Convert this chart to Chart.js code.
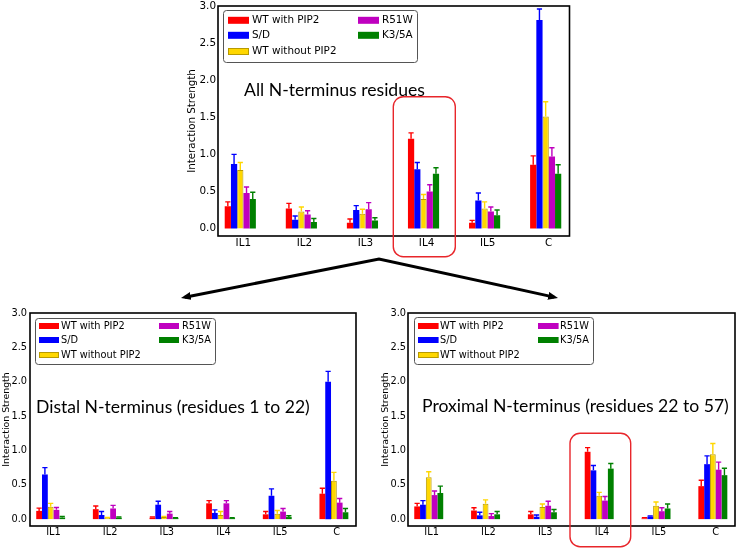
<!DOCTYPE html>
<html><head><meta charset="utf-8">
<script src="https://cdn.jsdelivr.net/npm/chart.js@4.4.1/dist/chart.umd.min.js"></script>
<style>
html,body{margin:0;padding:0;background:#fff;}
#wrap{position:relative;width:737px;height:549px;overflow:hidden;background:#fff;}
#wrap canvas{position:absolute;}
#deco{position:absolute;left:0;top:0;pointer-events:none;}
</style></head><body>
<div id="wrap">
<canvas id="cAll" width="410" height="262" style="left:170px;top:0px"></canvas>
<canvas id="cDist" width="365" height="249" style="left:0px;top:300px"></canvas>
<canvas id="cProx" width="365" height="249" style="left:372px;top:300px"></canvas>
<svg id="deco" width="737" height="549" viewBox="0 0 737 549">
  <defs>
    <marker id="ah" markerUnits="userSpaceOnUse" markerWidth="11" markerHeight="9" refX="6" refY="4" orient="auto-start-reverse">
      <path d="M0,0 L10,4 L0,8 z" fill="#000"/>
    </marker>
  </defs>
  <rect x="393.3" y="96.7" width="62" height="160" rx="10" ry="10" fill="none" stroke="#e8262b" stroke-width="1.4"/>
  <rect x="570" y="433.3" width="60.7" height="113.4" rx="10" ry="10" fill="none" stroke="#e8262b" stroke-width="1.4"/>
  <polyline points="184.9,297.2 379,259 554.1,297.1" fill="none" stroke="#000" stroke-width="3" stroke-linejoin="miter" marker-start="url(#ah)" marker-end="url(#ah)"/>
</svg>
</div>
<script>
// ---------- data ----------
const categories = ['IL1','IL2','IL3','IL4','IL5','C'];
const seriesNames = ['WT with PIP2','S/D','WT without PIP2','R51W','K3/5A'];
const yTickValues = [0.0,0.5,1.0,1.5,2.0,2.5,3.0];
const yAxisTitle = 'Interaction Strength';

// All N-terminus residues
const allWT      = [0.30, 0.27, 0.08, 1.21, 0.08, 0.86];
const allSD      = [0.87, 0.12, 0.25, 0.80, 0.38, 2.81];
const allNoPIP2  = [0.79, 0.23, 0.20, 0.40, 0.27, 1.51];
const allR51W    = [0.48, 0.19, 0.26, 0.50, 0.23, 0.97];
const allK35A    = [0.40, 0.09, 0.11, 0.74, 0.18, 0.74];
const allWTErr     = [0.06, 0.07, 0.05, 0.08, 0.03, 0.12];
const allSDErr     = [0.13, 0.05, 0.06, 0.09, 0.10, 0.15];
const allNoPIP2Err = [0.10, 0.06, 0.06, 0.06, 0.09, 0.20];
const allR51WErr   = [0.08, 0.05, 0.09, 0.09, 0.06, 0.12];
const allK35AErr   = [0.09, 0.045, 0.035, 0.08, 0.07, 0.12];

// Distal N-terminus (residues 1 to 22)
const distWT     = [0.12, 0.145, 0.02, 0.23, 0.07, 0.37];
const distSD     = [0.65, 0.06, 0.21, 0.09, 0.34, 2.00];
const distNoPIP2 = [0.18, 0.015, 0.03, 0.06, 0.08, 0.56];
const distR51W   = [0.135, 0.155, 0.08, 0.23, 0.11, 0.24];
const distK35A   = [0.025, 0.02, 0.015, 0.015, 0.03, 0.10];
const distWTErr     = [0.04, 0.045, 0.01, 0.04, 0.04, 0.08];
const distSDErr     = [0.10, 0.05, 0.05, 0.045, 0.10, 0.15];
const distNoPIP2Err = [0.05, 0.01, 0.01, 0.05, 0.045, 0.12];
const distR51WErr   = [0.035, 0.045, 0.03, 0.04, 0.045, 0.06];
const distK35AErr   = [0.015, 0.01, 0.005, 0.005, 0.02, 0.055];

// Proximal N-terminus (residues 22 to 57)
const proxWT     = [0.185, 0.125, 0.07, 0.98, 0.01, 0.48];
const proxSD     = [0.21, 0.055, 0.035, 0.71, 0.035, 0.80];
const proxNoPIP2 = [0.61, 0.225, 0.175, 0.34, 0.195, 0.945];
const proxR51W   = [0.35, 0.045, 0.195, 0.27, 0.115, 0.72];
const proxK35A   = [0.38, 0.07, 0.10, 0.735, 0.155, 0.64];
const proxWTErr     = [0.045, 0.04, 0.04, 0.06, 0.01, 0.085];
const proxSDErr     = [0.06, 0.045, 0.025, 0.07, 0.01, 0.12];
const proxNoPIP2Err = [0.08, 0.055, 0.045, 0.05, 0.055, 0.155];
const proxR51WErr   = [0.06, 0.035, 0.065, 0.06, 0.05, 0.11];
const proxK35AErr   = [0.10, 0.04, 0.04, 0.075, 0.065, 0.10];

const titleAll  = 'All N-terminus residues';
const titleDist = 'Distal N-terminus (residues 1 to 22)';
const titleProx = 'Proximal N-terminus (residues 22 to 57)';

// ---------- styling ----------
const colors  = ['#ff0000','#0000ff','#ffd700','#bf00bf','#008000'];
const borders = ['#d00000','#0000c8','#b89a00','#900090','#006000'];
const FONT = "'DejaVu Sans', sans-serif";

function makeDatasets(vals, errs){
  return vals.map((v,k)=>({
    label: seriesNames[k],
    data: v.map((y,i)=>({x:i, y:y})),
    errors: errs[k],
    backgroundColor: colors[k],
    borderColor: borders[k],
    borderWidth: k===2 ? 1 : 0,
    categoryPercentage: 0.51,
    barPercentage: 1.0
  }));
}

const decoPlugin = {
  id: 'deco',
  afterDatasetsDraw(chart){
    const ctx = chart.ctx, ys = chart.scales.y;
    chart.data.datasets.forEach((ds, di)=>{
      const meta = chart.getDatasetMeta(di);
      meta.data.forEach((bar, i)=>{
        const v = ds.data[i].y, e = ds.errors[i];
        const yTop = ys.getPixelForValue(v + e);
        const cap = 2.6;
        ctx.save();
        ctx.strokeStyle = colors[di];
        ctx.lineWidth = 1.4;
        ctx.beginPath();
        ctx.moveTo(bar.x, bar.y);
        ctx.lineTo(bar.x, yTop);
        ctx.moveTo(bar.x - cap, yTop);
        ctx.lineTo(bar.x + cap, yTop);
        ctx.stroke();
        ctx.restore();
      });
    });
  },
  afterDraw(chart, args, o){
    const ctx = chart.ctx, a = chart.chartArea;
    ctx.save();
    // frame
    ctx.strokeStyle = '#000';
    ctx.lineWidth = 1.6;
    ctx.strokeRect(a.left, a.top, a.right - a.left, a.bottom - a.top);
    // annotation text (fit to width)
    ctx.fillStyle = '#000';
    ctx.font = "20px Lato, 'Open Sans', sans-serif";
    const m = ctx.measureText(o.text).width;
    const size = 20 * o.textW / m;
    ctx.font = size.toFixed(2) + "px Lato, 'Open Sans', sans-serif";
    ctx.textBaseline = 'alphabetic';
    ctx.textAlign = 'left';
    ctx.fillText(o.text, a.left + o.textX, a.top + o.textY);
    // legend box
    const L = o.legend;
    const bx = a.left + L.x, by = a.top + L.y;
    ctx.beginPath();
    ctx.roundRect(bx + 0.5, by + 0.5, L.w, L.h, 3);
    ctx.fillStyle = '#fff';
    ctx.fill();
    ctx.strokeStyle = '#555';
    ctx.lineWidth = 1;
    ctx.stroke();
    ctx.font = L.font + 'px ' + FONT;
    ctx.textBaseline = 'middle';
    chart.data.datasets.forEach((ds, i)=>{
      const col = i < 3 ? 0 : 1, row = i < 3 ? i : i - 3;
      const px = bx + (col ? L.px2 : L.px1);
      const ty = by + L.rows[row];
      ctx.fillStyle = ds.backgroundColor;
      ctx.fillRect(px, ty - L.ph/2, L.pw, L.ph);
      if (ds.borderWidth){
        ctx.strokeStyle = ds.borderColor; ctx.lineWidth = 1;
        ctx.strokeRect(px + 0.5, ty - L.ph/2 + 0.5, L.pw - 1, L.ph - 1);
      }
      ctx.fillStyle = '#000';
      ctx.fillText(ds.label, bx + (col ? L.tx2 : L.tx1), ty);
    });
    ctx.restore();
  }
};

function makeChart(id, vals, errs, g){
  return new Chart(document.getElementById(id), {
    type: 'bar',
    data: { datasets: makeDatasets(vals, errs) },
    plugins: [decoPlugin],
    options: {
      responsive: false,
      animation: false,
      devicePixelRatio: 1,
      layout: { padding: { left: 0, right: g.padR, top: g.padT, bottom: g.padB } },
      plugins: {
        legend: { display: false },
        tooltip: { enabled: false },
        deco: { text: g.text, textX: g.textX, textY: g.textY, textW: g.textW, legend: g.legend }
      },
      scales: {
        x: {
          type: 'linear', bounds: 'data', min: -0.365, max: 5.39, offset: false,
          grid: { display: false, drawTicks: false, offset: false }, border: { display: false },
          afterBuildTicks: s => { s.ticks = categories.map((c,i)=>({ value: i + 0.05 })); },
          ticks: { autoSkip: false, maxRotation: 0, color: '#000', padding: 1,
                   font: { family: FONT, size: g.tickFont },
                   callback: (v, i) => categories[i] },
          afterFit: s => { s.height = 14; s.paddingLeft = 0; s.paddingRight = 0; }
        },
        y: {
          min: -0.1, max: 3.0, bounds: 'data',
          grid: { display: false, drawTicks: false }, border: { display: false },
          afterBuildTicks: s => { s.ticks = yTickValues.map(v=>({ value: v })); },
          ticks: { color: '#000', padding: g.yTickPad, font: { family: FONT, size: g.tickFont },
                   callback: v => Number(v).toFixed(1) },
          title: { display: true, text: yAxisTitle, color: '#000',
                   font: { family: FONT, size: g.titleFont }, padding: { top: g.titlePad, bottom: 0 } },
          afterFit: s => { s.width = g.yW; s.paddingTop = 0; s.paddingBottom = 0; }
        }
      }
    }
  });
}

makeChart('cAll',
  [allWT, allSD, allNoPIP2, allR51W, allK35A],
  [allWTErr, allSDErr, allNoPIP2Err, allR51WErr, allK35AErr],
  { padR: 10.5, padT: 6, padB: 12, yW: 48, yTickPad: 2, tickFont: 10.4, titleFont: 10.3, titlePad: 15.8,
    text: titleAll, textX: 26, textY: 90, textW: 181,
    legend: { x: 5, y: 4, w: 194, h: 52, rows: [10.3, 25.3, 41.5], px1: 5, pw: 21, ph: 7, tx1: 29,
              px2: 135, tx2: 159, font: 10.4 } });

makeChart('cDist',
  [distWT, distSD, distNoPIP2, distR51W, distK35A],
  [distWTErr, distSDErr, distNoPIP2Err, distR51WErr, distK35AErr],
  { padR: 9, padT: 13, padB: 9, yW: 30, yTickPad: 3, tickFont: 9.8, titleFont: 9.4, titlePad: 1.4,
    text: titleDist, textX: 6, textY: 100, textW: 274,
    legend: { x: 5, y: 5, w: 180, h: 46, rows: [8, 22, 37], px1: 4, pw: 20, ph: 6, tx1: 26,
              px2: 124, tx2: 147, font: 9.8 } });

makeChart('cProx',
  [proxWT, proxSD, proxNoPIP2, proxR51W, proxK35A],
  [proxWTErr, proxSDErr, proxNoPIP2Err, proxR51WErr, proxK35AErr],
  { padR: 2, padT: 13, padB: 9, yW: 36, yTickPad: 2, tickFont: 9.8, titleFont: 9.4, titlePad: 8.4,
    text: titleProx, textX: 14, textY: 99, textW: 307,
    legend: { x: 6, y: 4, w: 179, h: 47, rows: [9, 23, 38], px1: 4, pw: 20.6, ph: 6, tx1: 26,
              px2: 124, tx2: 146, font: 9.8 } });
</script>
</body></html>
